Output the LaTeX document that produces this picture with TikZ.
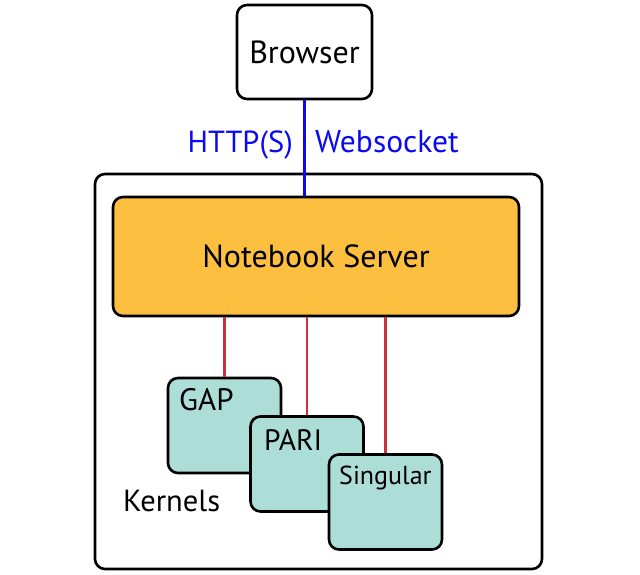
\documentclass[tikz,border=0pt]{standalone}
\usepackage{fontspec}
\setmainfont{PT Sans}
\definecolor{srv}{HTML}{FDBF3F}
\definecolor{kern}{HTML}{ACDDD7}
\definecolor{redline}{HTML}{C8323C}
\definecolor{blueline}{HTML}{0A0AF0}
\begin{document}
\begin{tikzpicture}[x=1pt,y=-1pt,
  box/.style={draw=black,line width=2.6pt,rounded corners=10pt,inner sep=0pt},
  kbox/.style={box,fill=kern,minimum width=113pt,minimum height=95pt},
  conn/.style={draw=redline,line width=2.2pt},
  lbl/.style={inner sep=0pt,anchor=base west}]
\useasboundingbox (0,0) rectangle (640,575);
\node[box,minimum width=447pt,minimum height=395pt] (outer) at (318.5,371.5) {};
\node[box,fill=white,minimum width=135pt,minimum height=94pt,font=\fontsize{32}{36}\selectfont] (browser) at (304.5,52) {Browser};
\node[box,fill=srv,minimum width=406pt,minimum height=119pt,font=\fontsize{32}{36}\selectfont] (server) at (316,256.5) {Notebook Server};
\draw[draw=blueline,line width=2.4pt] (browser.south) -- (browser.south |- server.north);
\node[inner sep=0pt,anchor=base east,text=blueline,font=\fontsize{30.5}{35}\selectfont] (http) at (293,153) {HTTP(S)};
\node[lbl,text=blueline,font=\fontsize{31.5}{35}\selectfont] (ws) at (315,153) {Websocket};
\node[kbox] (gap) at (224.5,425.5) {};
\node[kbox] (pari) at (307,464) {};
\node[kbox] (sing) at (385.5,502) {};
\draw[conn] (server.south -| gap.north) -- (gap.north);
\draw[conn] (server.south -| pari.north) -- (pari.north);
\draw[conn] (server.south -| sing.north) -- (sing.north);
\node[lbl,font=\fontsize{31}{35}\selectfont] (gapl) at (179,410) {GAP};
\node[lbl,font=\fontsize{29.5}{33}\selectfont] (paril) at (264,450) {PARI};
\node[lbl,font=\fontsize{26}{30}\selectfont] (singl) at (339,484) {Singular};
\node[lbl,font=\fontsize{30.5}{34}\selectfont] (kern) at (123,511) {Kernels};
\end{tikzpicture}
\end{document}
